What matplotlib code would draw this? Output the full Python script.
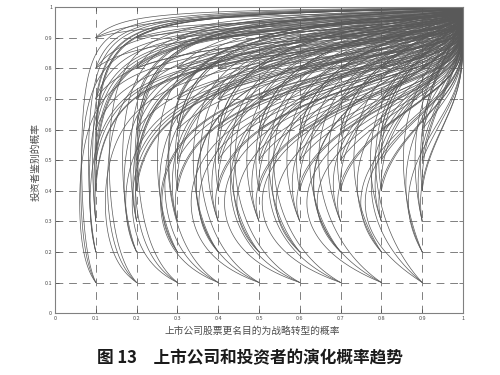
import numpy as np
import matplotlib.pyplot as plt

plt.rcParams['font.family'] = ['Noto Sans CJK SC', 'DejaVu Sans']

# starting points of the evolution paths (grid)
x_starts = [0.1, 0.2, 0.3, 0.4, 0.5, 0.6, 0.7, 0.8, 0.9]
y_starts = [0.1, 0.2, 0.3, 0.4, 0.5, 0.6, 0.7, 0.8, 0.9]

# three parameter sets drawn from every start point
alphas = [1.9, 1.2, 0.75]     # speed of x relative to y
y_turn = [0.36, 0.42, 0.50]   # y where x stops falling
k_slow = 0.6                  # y grows slower when x is large
m_slow = 0.6                  # y grows slower when y is large

ticks = [0, 0.1, 0.2, 0.3, 0.4, 0.5, 0.6, 0.7, 0.8, 0.9, 1]
tick_labels = ['0', '0.1', '0.2', '0.3', '0.4', '0.5', '0.6', '0.7', '0.8', '0.9', '1']


def paths(x0, y0, a, ys, dt=0.02, n=2500):
    # replicator dynamics in logit coordinates, all start points at once
    u = np.log(x0 / (1 - x0))
    v = np.log(y0 / (1 - y0))
    xs, yy = [], []
    for _ in range(n):
        x = 1 / (1 + np.exp(-u))
        y = 1 / (1 + np.exp(-v))
        xs.append(x)
        yy.append(y)
        u = np.minimum(u + dt * a * (y - ys), 9)
        v = np.minimum(v + dt * (1 - k_slow * x) * (1 - m_slow * y), 9)
    return np.array(xs), np.array(yy)


X0, Y0 = np.meshgrid(x_starts, y_starts)
X0 = X0.ravel()
Y0 = Y0.ravel()

fig = plt.figure(figsize=(5, 3.75), dpi=100)
ax = fig.add_axes([0.11, 0.165, 0.816, 0.816])

for a, ys in zip(alphas, y_turn):
    xs, yy = paths(X0, Y0, a, ys)
    ax.plot(xs, yy, color='0.35', lw=0.5)

ax.set_xlim(0, 1)
ax.set_ylim(0, 1)
for t in ticks[1:-1]:
    ax.axvline(t, color='0.5', ls=(0, (8, 6)), lw=0.7, zorder=0)
    ax.axhline(t, color='0.5', ls=(0, (8, 6)), lw=0.7, zorder=0)

ax.set_xticks(ticks)
ax.set_xticklabels(tick_labels)
ax.set_yticks(ticks)
ax.set_yticklabels(tick_labels)
ax.tick_params(direction='in', length=3, width=0.5, labelsize=4, pad=2,
               colors='0.3', top=True, right=True)
for s in ax.spines.values():
    s.set_color('0.5')
    s.set_linewidth(0.8)

fig.text(0.505, 1 - 331 / 375, '上市公司股票更名目的为战略转型的概率',
         ha='center', va='center', fontsize=7, color='0.3')
fig.text(0.072, 1 - 162 / 375, '投资者鉴别的概率', rotation=90,
         ha='center', va='center', fontsize=7, color='0.3')
fig.text(0.5, 1 - 358 / 375, '图 13　上市公司和投资者的演化概率趋势',
         ha='center', va='center', fontsize=12, fontweight='bold', color='0.1')

fig.savefig('out.png', dpi=100)
